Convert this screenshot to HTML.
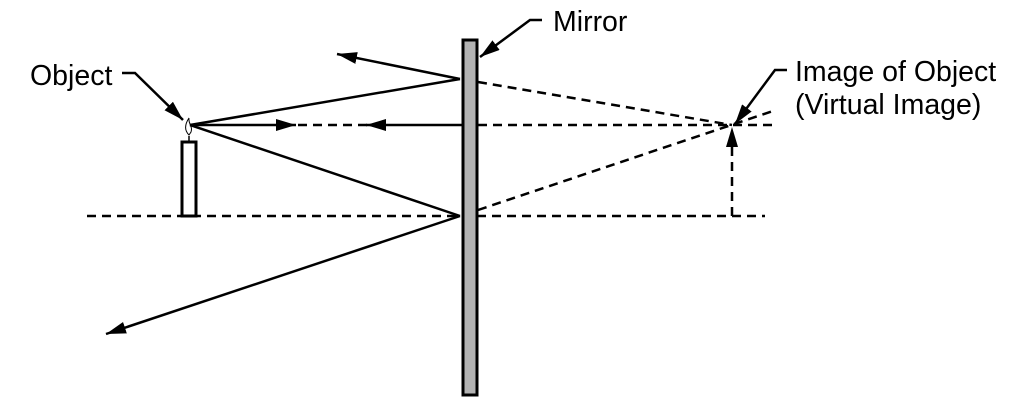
<!DOCTYPE html>
<html><head><style>
body{margin:0;background:#fff}
svg{display:block}
text{font-family:"Liberation Sans",Arial,sans-serif;font-size:28.5px;fill:#000}
</style></head><body>
<svg width="1023" height="413" viewBox="0 0 1023 413">
<defs>
<marker id="b" markerWidth="20" markerHeight="12" refX="20" refY="6" orient="auto" markerUnits="userSpaceOnUse" viewBox="0 0 20 12">
<path d="M0,0 L20,6 L0,12 Z" fill="#000"/></marker>
</defs>
<g stroke="#000" stroke-width="2.5" fill="none">
<line x1="87" y1="216" x2="765" y2="216" stroke-dasharray="9,6"/>
<rect x="182" y="142" width="14" height="74" fill="#fff" stroke-width="3"/>
<path d="M189,141 V136" stroke-width="1.5"/>
<path d="M189,135 C184,130 185,124 189,118 C188,124 193,126 191,132 Z" stroke-width="1" fill="#fff"/>
<line x1="190" y1="125" x2="460" y2="79"/>
<line x1="460" y1="79" x2="337" y2="54" marker-end="url(#b)"/>
<line x1="190" y1="125" x2="460" y2="216"/>
<line x1="460" y1="216" x2="106" y2="334" marker-end="url(#b)"/>
<line x1="190" y1="125" x2="296" y2="125" marker-end="url(#b)"/>
<line x1="298" y1="125" x2="368" y2="125" stroke-dasharray="9,6"/>
<line x1="462" y1="125" x2="366" y2="125" marker-end="url(#b)"/>
<line x1="478" y1="125" x2="775" y2="125" stroke-dasharray="9,6"/>
<line x1="478" y1="82" x2="732" y2="125" stroke-dasharray="9,6"/>
<line x1="478" y1="210" x2="776" y2="110" stroke-dasharray="9,6"/>
<line x1="732" y1="216" x2="732" y2="127" stroke-dasharray="9,6" marker-end="url(#b)"/>
<rect x="463" y="40" width="14" height="355" fill="#b3b3b3" stroke-width="3"/>
<polyline points="122,73 135,73 183,120" marker-end="url(#b)"/>
<polyline points="542,20 530,20 480,57" marker-end="url(#b)"/>
<polyline points="787,70 775,70 735,124" marker-end="url(#b)"/>
</g>
<text x="30" y="85">Object</text>
<text x="553" y="31">Mirror</text>
<text x="795" y="81">Image of Object</text>
<text x="795" y="114">(Virtual Image)</text>
</svg>
</body></html>
